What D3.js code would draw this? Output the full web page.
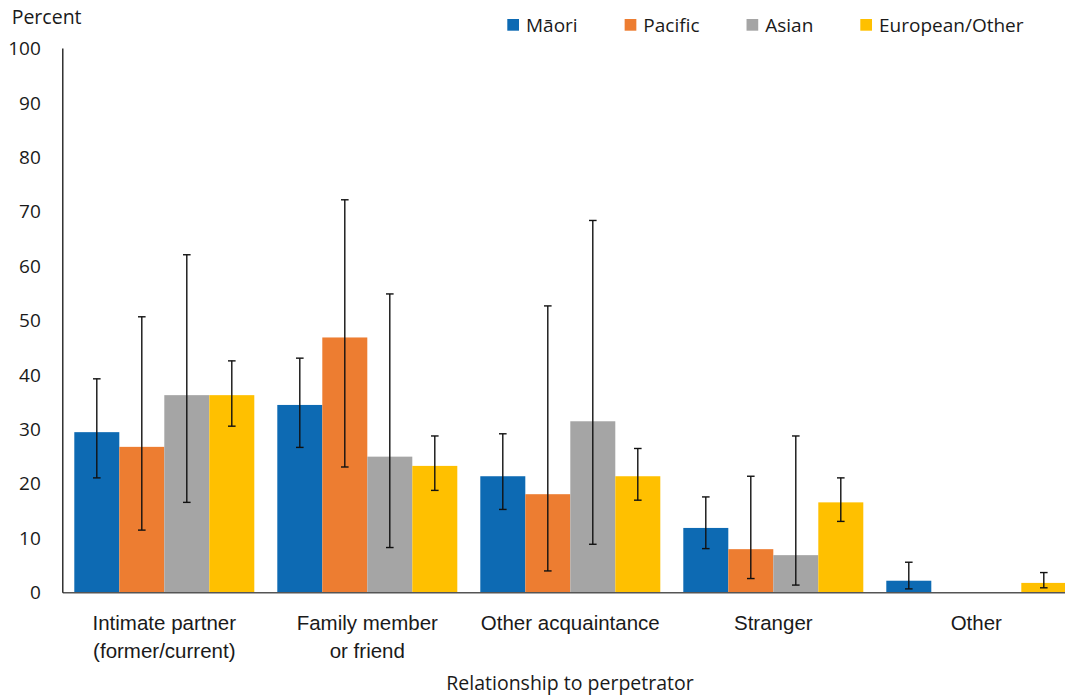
<!DOCTYPE html>
<html>
<head>
<meta charset="utf-8">
<script src="https://cdn.jsdelivr.net/npm/d3@7"></script>
<style>
  body { margin: 0; background: #fff; }
  svg { font-family: 'Open Sans', sans-serif; }
</style>
</head>
<body>
<svg></svg>
<script>
var width = 1065;
var height = 697;

var categories = ['Intimate partner|(former/current)', 'Family member|or friend', 'Other acquaintance', 'Stranger', 'Other'];
var groups = ['Māori', 'Pacific', 'Asian', 'European/Other'];
var colors = ['#0D6AB3', '#ED7D31', '#A5A5A5', '#FFC000'];

// percent, and lower / upper 95% CI, one array per group (order follows categories)
var maori    = [29.5, 34.5, 21.4, 11.9, 2.2];
var maoriLo  = [21.1, 26.7, 15.3, 8.1, 0.7];
var maoriHi  = [39.3, 43.1, 29.2, 17.6, 5.6];
var pacific   = [26.8, 46.9, 18.1, 8.0, 0];
var pacificLo = [11.5, 23.1, 4.0, 2.6, null];
var pacificHi = [50.7, 72.2, 52.7, 21.4, null];
var asian   = [36.3, 25.0, 31.5, 6.9, 0];
var asianLo = [16.6, 8.3, 8.9, 1.4, null];
var asianHi = [62.1, 54.9, 68.4, 28.8, null];
var euro   = [36.3, 23.3, 21.4, 16.6, 1.8];
var euroLo = [30.6, 18.8, 17.0, 13.1, 0.9];
var euroHi = [42.6, 28.8, 26.5, 21.1, 3.7];

var yTicks = [0, 10, 20, 30, 40, 50, 60, 70, 80, 90, 100];

var series = [
  {name: groups[0], v: maori, lo: maoriLo, hi: maoriHi},
  {name: groups[1], v: pacific, lo: pacificLo, hi: pacificHi},
  {name: groups[2], v: asian, lo: asianLo, hi: asianHi},
  {name: groups[3], v: euro, lo: euroLo, hi: euroHi}
];

var rows = [];
categories.forEach(function (c, i) {
  series.forEach(function (s) {
    rows.push({cat: c, group: s.name, value: s.v[i], lo: s.lo[i], hi: s.hi[i]});
  });
});

var svg = d3.select('svg')
    .attr('width', width)
    .attr('height', height);

var left = 62.8;
var pad = 23 / 203;
var Xscale = d3.scaleBand().domain(categories).range([left, left + 5 * 203])
    .paddingInner(pad).paddingOuter(pad / 2);
var Xinner = d3.scaleBand().domain(groups).range([0, Xscale.bandwidth()]);
var Yscale = d3.scaleLinear().domain([0, 100]).range([592.7, 48.5]);
var colorScale = d3.scaleOrdinal().domain(groups).range(colors);

// bars
svg.append('g')
    .selectAll('rect')
    .data(rows.filter(d => d.value > 0))
    .enter()
    .append('rect')
    .attr('x', d => Xscale(d.cat) + Xinner(d.group))
    .attr('y', d => Yscale(d.value))
    .attr('width', Xinner.bandwidth())
    .attr('height', d => Yscale(0) - Yscale(d.value))
    .attr('fill', d => colorScale(d.group));

// error bars
var errs = svg.append('g')
    .attr('stroke', '#111')
    .attr('stroke-width', 1.4)
    .selectAll('g')
    .data(rows.filter(d => d.lo != null))
    .enter()
    .append('g')
    .attr('transform', d => `translate(${Xscale(d.cat) + Xinner(d.group) + Xinner.bandwidth() / 2},0)`);
errs.append('line')
    .attr('y1', d => Yscale(d.lo))
    .attr('y2', d => Yscale(d.hi));
errs.append('line')
    .attr('x1', -3.8).attr('x2', 3.8)
    .attr('y1', d => Yscale(d.hi)).attr('y2', d => Yscale(d.hi));
errs.append('line')
    .attr('x1', -3.8).attr('x2', 3.8)
    .attr('y1', d => Yscale(d.lo)).attr('y2', d => Yscale(d.lo));

// x axis (baseline)
var Xaxis = d3.axisBottom(Xscale).tickSize(0).tickFormat('');
var xg = svg.append('g')
    .attr('transform', `translate(0,${Yscale(0)})`)
    .call(Xaxis);
xg.select('.domain').attr('stroke', '#555').attr('stroke-width', 1.6)
    .attr('d', `M${left},0H${width}`);

xg.selectAll('.tick')
    .append('text')
    .attr('fill', '#1a1a1a')
    .attr('text-anchor', 'middle')
    .style('font-size', '20.5px')
    .each(function (d) {
      var lines = d.split('|');
      var t = d3.select(this);
      lines.forEach(function (l, i) {
        t.append('tspan').attr('x', 0).attr('y', 37 + i * 28).text(l);
      });
    });

// y axis
var Yaxis = d3.axisLeft(Yscale).tickValues(yTicks).tickSize(0).tickPadding(22);
var yg = svg.append('g')
    .attr('transform', `translate(${left},0)`)
    .call(Yaxis);
yg.select('.domain').attr('stroke', '#111').attr('stroke-width', 1.3)
    .attr('d', `M0,${Yscale(0)}V${Yscale(100)}`);
yg.selectAll('.tick text')
    .attr('fill', '#1a1a1a')
    .style('font-size', '19px')
    .style('font-family', "'Open Sans', sans-serif");

svg.append('text')
    .attr('x', 11.7)
    .attr('y', 24.3)
    .attr('fill', '#1a1a1a')
    .style('font-size', '19.5px')
    .text('Percent');

svg.append('text')
    .attr('text-anchor', 'middle')
    .attr('x', 570)
    .attr('y', 689.5)
    .attr('fill', '#1a1a1a')
    .style('font-size', '19.5px')
    .text('Relationship to perpetrator');

// legend
var lx = 507.3;
groups.forEach(function (g) {
  svg.append('rect')
      .attr('x', lx).attr('y', 19)
      .attr('width', 11.7).attr('height', 11.7)
      .attr('fill', colorScale(g));
  var t = svg.append('text')
      .attr('x', lx + 18.7).attr('y', 31.7)
      .attr('fill', '#1a1a1a')
      .style('font-size', '19px')
      .text(g);
  lx = lx + 18.7 + t.node().getComputedTextLength() + 47;
});
</script>
</body>
</html>
